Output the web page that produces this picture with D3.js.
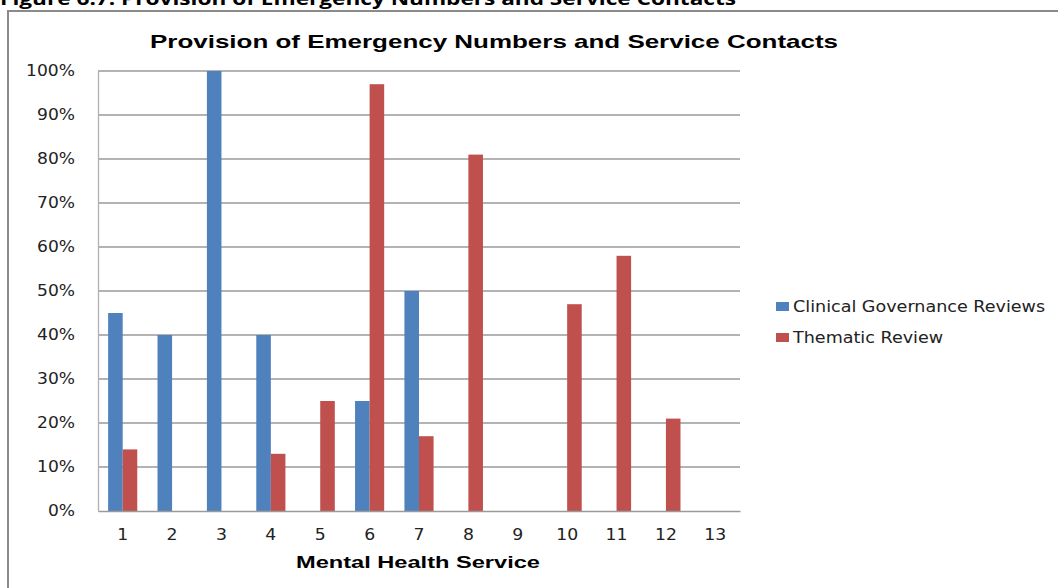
<!DOCTYPE html>
<html>
<head>
<meta charset="utf-8">
<script src="https://cdn.jsdelivr.net/npm/d3@7"></script>
<style>
  html, body { margin: 0; padding: 0; background: #fff; }
  svg { display: block; }
</style>
</head>
<body>
<svg id="chart" width="1058" height="588"></svg>
<script>
// Mental health services and review results (% of services)
const services = ["1","2","3","4","5","6","7","8","9","10","11","12","13"];
const clinicalGovernance = [45, 40, 100, 40, 0, 25, 50, 0, 0, 0, 0, 0, 0];
const thematicReview = [14, 0, 0, 13, 25, 97, 17, 81, 0, 47, 58, 21, 0];
const seriesNames = ["Clinical Governance Reviews", "Thematic Review"];
const seriesColors = ["#4F81BD", "#C0504D"];
const yTicks = [0, 10, 20, 30, 40, 50, 60, 70, 80, 90, 100];

const svg = d3.select("#chart");

// Widen text horizontally by a factor, keeping its height
function widen(sel, factor) {
  sel.each(function () {
    const w = this.getComputedTextLength();
    d3.select(this)
      .attr("textLength", w * factor)
      .attr("lengthAdjust", "spacingAndGlyphs");
  });
}

// Figure caption above the chart frame
svg.append("text")
  .attr("x", 0).attr("y", 5)
  .attr("font-family", "'Open Sans', 'Noto Sans', sans-serif")
  .attr("font-weight", "bold")
  .attr("font-size", 17)
  .attr("textLength", 736)
  .attr("lengthAdjust", "spacingAndGlyphs")
  .attr("fill", "#000")
  .text("Figure 6.7: Provision of Emergency Numbers and Service Contacts");

// Chart frame
svg.append("rect")
  .attr("x", 8).attr("y", 11)
  .attr("width", 1100).attr("height", 640)
  .attr("fill", "#fff")
  .attr("stroke", "#8a8a8a")
  .attr("stroke-width", 2);

const plot = { left: 98, right: 740, top: 71, bottom: 511 };

const x0 = d3.scaleBand()
  .domain(services)
  .range([plot.left, plot.right])
  .paddingInner(0.41)
  .paddingOuter(0.205);

const x1 = d3.scaleBand()
  .domain(seriesNames)
  .range([0, x0.bandwidth()]);

const y = d3.scaleLinear().domain([0, 100]).range([plot.bottom, plot.top]);

// Horizontal gridlines
svg.append("g")
  .selectAll("line")
  .data(yTicks.filter(t => t > 0))
  .join("line")
  .attr("x1", plot.left).attr("x2", plot.right)
  .attr("y1", d => y(d)).attr("y2", d => y(d))
  .attr("stroke", "#9a9a9a")
  .attr("stroke-width", 1.3);

// Y axis
const yAxis = svg.append("g")
  .attr("transform", `translate(${plot.left},0)`)
  .call(d3.axisLeft(y).tickValues(yTicks).tickFormat(d => d + "%").tickSize(0).tickPadding(23));
yAxis.select(".domain").attr("stroke", "#b0b0b0").attr("stroke-width", 1.3);
yAxis.selectAll("text")
  .attr("font-family", "'DejaVu Sans', Verdana, sans-serif")
  .attr("font-size", 15)
  .attr("fill", "#222")
  .call(widen, 1.14);

// Bars
const groups = services.map((s, i) => ({
  service: s,
  values: [clinicalGovernance[i], thematicReview[i]]
}));

svg.append("g")
  .selectAll("g")
  .data(groups)
  .join("g")
  .attr("transform", d => `translate(${x0(d.service)},0)`)
  .selectAll("rect")
  .data(d => d.values.map((v, k) => ({ name: seriesNames[k], value: v, color: seriesColors[k] })))
  .join("rect")
  .filter(d => d.value > 0)
  .attr("x", d => x1(d.name))
  .attr("width", x1.bandwidth())
  .attr("y", d => y(d.value))
  .attr("height", d => y(0) - y(d.value))
  .attr("fill", d => d.color);

// X axis
const xAxis = svg.append("g")
  .attr("transform", `translate(0,${plot.bottom})`)
  .call(d3.axisBottom(x0).tickSize(0).tickPadding(18));
xAxis.select(".domain").attr("stroke", "#9a9a9a").attr("stroke-width", 1.3);
xAxis.selectAll("text")
  .attr("font-family", "'DejaVu Sans', Verdana, sans-serif")
  .attr("font-size", 15)
  .attr("fill", "#222")
  .call(widen, 1.15);

// Chart title
svg.append("text")
  .attr("x", 494).attr("y", 48)
  .attr("text-anchor", "middle")
  .attr("font-family", "'Liberation Sans', Arial, sans-serif")
  .attr("font-weight", "bold")
  .attr("font-size", 19)
  .attr("textLength", 688)
  .attr("lengthAdjust", "spacingAndGlyphs")
  .attr("fill", "#000")
  .text("Provision of Emergency Numbers and Service Contacts");

// X axis title
svg.append("text")
  .attr("x", 418).attr("y", 568)
  .attr("text-anchor", "middle")
  .attr("font-family", "'Liberation Sans', Arial, sans-serif")
  .attr("font-weight", "bold")
  .attr("font-size", 17)
  .attr("textLength", 244)
  .attr("lengthAdjust", "spacingAndGlyphs")
  .attr("fill", "#000")
  .text("Mental Health Service");

// Legend
const legend = svg.append("g")
  .selectAll("g")
  .data(seriesNames)
  .join("g")
  .attr("transform", (d, i) => `translate(776,${302 + i * 31})`);
legend.append("rect")
  .attr("x", 0).attr("y", 0)
  .attr("width", 13).attr("height", 9)
  .attr("fill", (d, i) => seriesColors[i]);
legend.append("text")
  .attr("x", 17).attr("y", 9.5)
  .attr("font-family", "'DejaVu Sans', Verdana, sans-serif")
  .attr("font-size", 15)
  .attr("fill", "#222")
  .text(d => d)
  .call(widen, 1.17);
</script>
</body>
</html>
